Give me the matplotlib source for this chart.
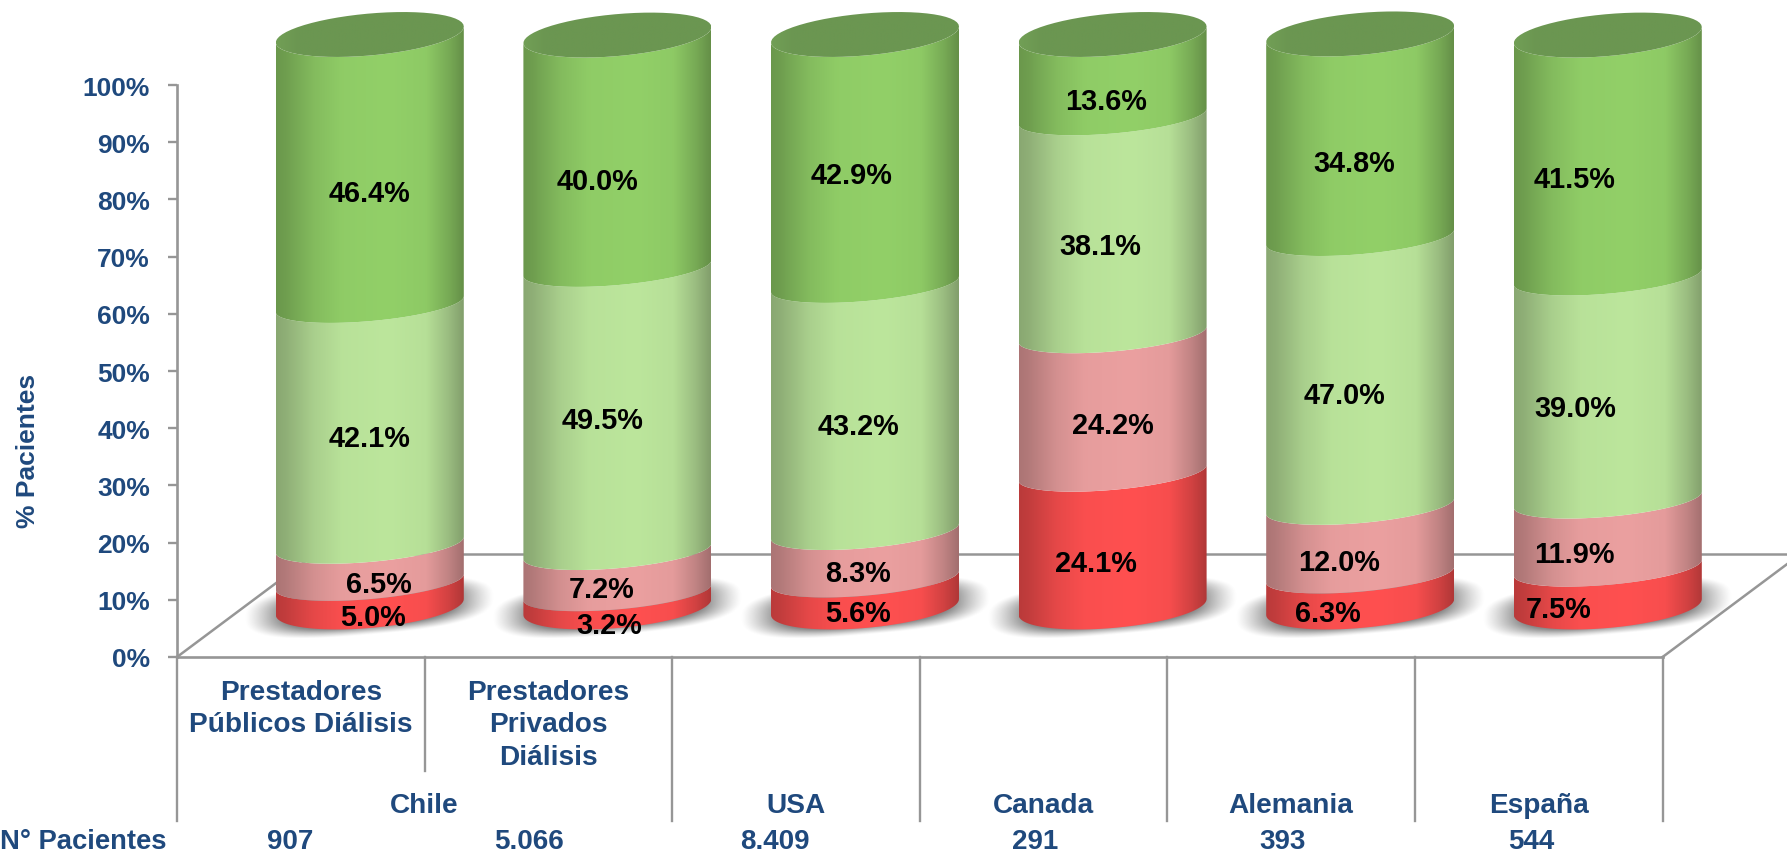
#!/usr/bin/env python3
# -*- coding: utf-8 -*-
"""
Cilindros apilados: % de pacientes por prestador y pais
"""

import numpy as np
import matplotlib
matplotlib.use("Agg")
import matplotlib.pyplot as plt
from matplotlib.patches import PathPatch
from matplotlib.path import Path

plt.rcParams['font.family'] = ['Liberation Sans', 'DejaVu Sans']

# Datos

rojo = [5.0, 3.2, 5.6, 24.1, 6.3, 7.5]
rosado = [6.5, 7.2, 8.3, 24.2, 12.0, 11.9]
verde_claro = [42.1, 49.5, 43.2, 38.1, 47.0, 39.0]
verde = [46.4, 40.0, 42.9, 13.6, 34.8, 41.5]

categorias = ["Prestadores\nPúblicos Diálisis", "Prestadores\nPrivados\nDiálisis", "", "", "", ""]
grupos = ["Chile", "USA", "Canada", "Alemania", "España"]
pacientes = ["907", "5.066", "8.409", "291", "393", "544"]
ticks_y = [0, 10, 20, 30, 40, 50, 60, 70, 80, 90, 100]

# Geometria en pixeles de la figura

W, H = 1787, 854
px_cat = 247.6     # ancho de una categoria
px_pct = 5.72      # alto de 1%
x0_px = 177        # eje y
y0_px = 658        # 0% desde arriba

depth = 52 / px_pct
shift_x = 69 / px_cat
half_w = 94 / px_cat
tilt = 8 / px_pct
arc_h = 21 / px_pct
arc_in = 17 / px_pct
inner_shift = -1.0
base_shift = -2 / px_pct
top_shift = -1.5 / px_pct

colores = ["#FF5050", "#EBA0A0", "#BCE69C", "#92D068"]
azul = "#1F497D"
gris = "#969696"

# Ajustes de las etiquetas, en pixeles (x, y hacia arriba)
nudge_x = [[3, 9, 0, 0], [-8, -16, -15, -20], [-7, -7, -7, -13],
           [-17, 0, -12, -7], [-32, -21, -16, -6], [-49, -33, -33, -33]]
nudge_y = [[-4, -4, 3, -5], [-7, -1, 6, -11], [-2, -2, -2, 3],
           [-5, -5, -4, -7], [-4, -5, -7, -9], [-3, -4, -4, -5]]
nudge_n = [-11, -19, -21, -8, -9, -8]

fig = plt.figure(figsize=(W / 100, H / 100), dpi=100, facecolor="white")
ax = fig.add_axes([0, 0, 1, 1])
ax.set_facecolor("white")


def sombreado(rgb, puntos, valores):
    u = np.linspace(0, 1, 256)
    s = np.interp(u, puntos, valores)
    c = np.array(matplotlib.colors.to_rgb(rgb))
    return (c[None, None, :] * s[None, :, None]).clip(0, 1)


def arco(c, yc, h, t0, t1):
    t = np.linspace(t0, t1, 60)
    return c + half_w * np.cos(t), yc + tilt * np.cos(t) + h * np.sin(t)


def relleno(xs, ys, img, extent, zorder):
    verts = np.column_stack([xs, ys])
    verts = np.vstack([verts, verts[0]])
    codes = [Path.MOVETO] + [Path.LINETO] * (len(verts) - 2) + [Path.CLOSEPOLY]
    patch = PathPatch(Path(verts, codes), facecolor="none", edgecolor="none",
                      transform=ax.transData)
    ax.add_patch(patch)
    im = ax.imshow(img, extent=extent, aspect="auto", zorder=zorder,
                   interpolation="bilinear", origin="lower")
    im.set_clip_path(patch)


# Piso del grafico
fondo = 103 / px_pct
ax.plot([-0.5, -0.5 + 2 * shift_x], [0, fondo], color=gris, lw=1.8, zorder=1)
ax.plot([5.5, 5.5 + 2 * shift_x], [0, fondo], color=gris, lw=1.8, zorder=1)
ax.plot([-0.5 + 2 * shift_x, 5.5 + 2 * shift_x], [fondo, fondo], color=gris, lw=1.8, zorder=1)

# Cilindros
puntos = [0, 0.05, 0.2, 0.35, 0.6, 0.8, 0.92, 1]
valores = [0.73, 0.76, 0.9, 0.98, 1.0, 0.97, 0.82, 0.69]
series = np.array([rojo, rosado, verde_claro, verde])
acum = np.cumsum(series, axis=0)

for i in range(len(rojo)):
    c = i + shift_x
    ext_x = [c - half_w, c + half_w]

    # sombra en el piso
    gx = np.linspace(c - half_w - 0.22, c + half_w + 0.22, 160)
    gy = np.linspace(depth - 9, depth + 9, 120)
    xx, yy = np.meshgrid(gx, gy)
    dx = (xx - c) / half_w
    a = np.abs((xx - c) / (half_w + 0.125))
    b = np.abs((yy - depth + 0.5 - tilt * dx) / 4.8)
    r = (a ** 2.8 + b ** 2.8) ** (1 / 2.8)
    alpha = np.clip((1.0 - r) / 0.3, 0, 1) ** 1.2 * 0.8
    sombra = np.zeros(xx.shape + (4,))
    sombra[..., :3] = 0.42
    sombra[..., 3] = alpha
    ax.imshow(sombra, extent=[gx[0], gx[-1], gy[0], gy[-1]], aspect="auto",
              zorder=2, origin="lower", interpolation="bilinear")

    # segmentos
    for k in range(4):
        y_abajo = depth + (acum[k - 1, i] + inner_shift if k > 0 else base_shift)
        y_arriba = depth + (acum[k, i] + inner_shift if k < 3 else acum[k, i] + top_shift)
        h_abajo = arc_in if k > 0 else arc_h
        h_arriba = arc_in if k < 3 else arc_h
        xa, ya = arco(c, y_abajo, h_abajo, np.pi, 2 * np.pi)
        xb, yb = arco(c, y_arriba, h_arriba, 2 * np.pi, np.pi)
        img = sombreado(colores[k], puntos, valores)
        relleno(np.r_[xa, xb], np.r_[ya, yb], img,
                [ext_x[0], ext_x[1], y_abajo - 8, y_arriba + 8], 3)

    # tapa superior
    y_top = depth + acum[3, i] + top_shift
    xt, yt = arco(c, y_top, arc_h, 0, 2 * np.pi)
    img = sombreado("#6B9651", [0, 0.12, 0.5, 1], [1.06, 1.0, 1.0, 1.0])
    relleno(xt, yt, img, [ext_x[0], ext_x[1], y_top - 8, y_top + 8], 4)

    # etiquetas de valor
    for k in range(4):
        base = acum[k - 1, i] if k > 0 else 0
        medio = base + series[k, i] / 2
        ax.annotate("%.1f%%" % series[k, i], xy=(c, depth + medio - 22 / px_pct),
                    xytext=(nudge_x[i][k], nudge_y[i][k]), textcoords="offset pixels",
                    ha="center", va="center", fontsize=20.8, fontweight="bold",
                    color="black", zorder=6, annotation_clip=False)

# Ejes
ax.set_xlim(-0.5 - x0_px / px_cat, -0.5 + (W - x0_px) / px_cat)
ax.set_ylim(-(H - y0_px) / px_pct, y0_px / px_pct)
for lado in ["top", "right"]:
    ax.spines[lado].set_visible(False)
ax.spines["left"].set_position(("data", -0.5))
ax.spines["left"].set_bounds(0, 100)
ax.spines["bottom"].set_position(("data", 0))
ax.spines["bottom"].set_bounds(-0.5, 5.5)
for lado in ["left", "bottom"]:
    ax.spines[lado].set_color(gris)
    ax.spines[lado].set_linewidth(1.9)
    ax.spines[lado].set_zorder(5)
ax.set_xticks([])
ax.set_yticks(ticks_y)
ax.set_yticklabels(["%d%%" % t for t in ticks_y], fontsize=19, fontweight="bold", color=azul)
ax.tick_params(axis="y", length=6.5, width=1.7, color=gris, pad=13)

fig.text(28 / W, 1 - 451 / H, "% Pacientes", rotation=90, ha="center", va="center",
         fontsize=19, fontweight="bold", color=azul)

# Divisiones bajo el eje
fin_largo = -164 / px_pct
fin_corto = -114 / px_pct
for x in [-0.5, 1.5, 2.5, 3.5, 4.5, 5.5]:
    ax.plot([x, x], [0, fin_largo], color=gris, lw=1.7, zorder=1)
ax.plot([0.5, 0.5], [0, fin_corto], color=gris, lw=1.7, zorder=1)

# Textos bajo el eje
for i, cat in enumerate(categorias):
    if cat:
        ax.text(i, -22 / px_pct, cat, ha="center", va="top", fontsize=20.2,
                fontweight="bold", color=azul, linespacing=1.32)

pos_grupos = [0.5, 2, 3, 4, 5]
for x, g in zip(pos_grupos, grupos):
    ax.text(x, -148 / px_pct, g, ha="center", va="center", fontsize=20.2,
            fontweight="bold", color=azul)

for i, n in enumerate(pacientes):
    ax.annotate(n, xy=(i, -184 / px_pct), xytext=(nudge_n[i], 0), textcoords="offset pixels",
                ha="center", va="center", fontsize=20, fontweight="bold", color=azul,
                annotation_clip=False)
fig.text(0, 1 - 842 / H, "N° Pacientes", ha="left", va="center", fontsize=19.7,
         fontweight="bold", color=azul)

fig.savefig("out.png", dpi=100, facecolor="white")
